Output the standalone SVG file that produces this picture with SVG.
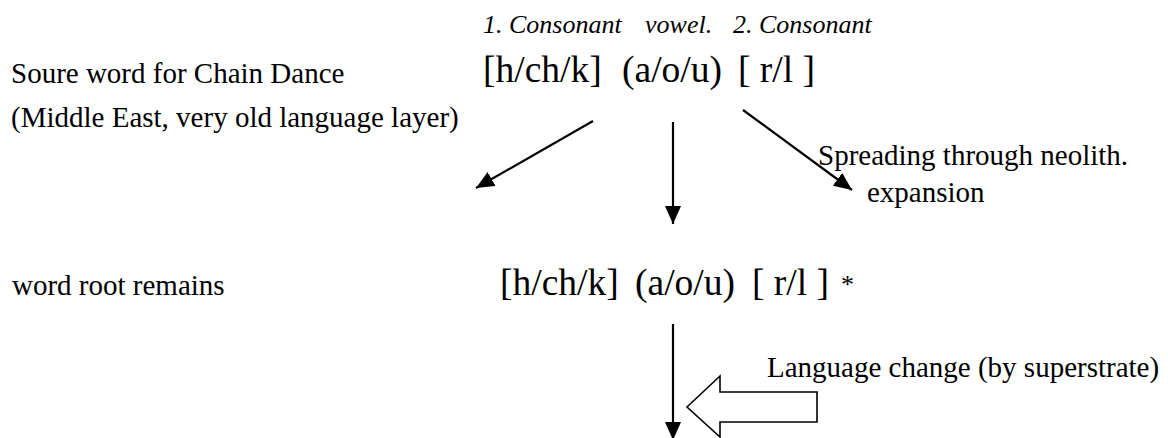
<svg xmlns="http://www.w3.org/2000/svg" width="1168" height="438" viewBox="0 0 1168 438">
  <style>
    .lbl { font-size: 29px; }
    .ital { font-size: 26px; font-style: italic; }
    .root { font-size: 37.5px; }
    .star { font-size: 26px; }
    .line { stroke: #000; stroke-width: 2.2; fill: none; }
  </style>
  <defs>
    <marker id="head" viewBox="0 0 18 16" refX="18" refY="8" markerWidth="18" markerHeight="16" markerUnits="userSpaceOnUse" orient="auto">
      <path d="M0,0 L18,8 L0,16 Z" fill="#000"/>
    </marker>
  </defs>

  <rect width="1168" height="438" fill="#fff"/>

  <g font-family="'Liberation Serif', 'Times New Roman', Times, serif" fill="#000">
    <!-- source word -->
    <g id="source">
      <text class="lbl" x="11" y="83">Soure word for Chain Dance</text>
      <text class="lbl" x="11" y="127">(Middle East, very old language layer)</text>
      <text class="ital" x="483" y="33">1. Consonant</text>
      <text class="ital" x="645" y="33">vowel.</text>
      <text class="ital" x="733" y="33">2. Consonant</text>
      <text class="root" x="483" y="82">[h/ch/k]</text>
      <text class="root" x="622" y="82">(a/o/u)</text>
      <text class="root" x="738" y="82">[ r/l ]</text>
    </g>

    <!-- spreading label -->
    <g id="spreading">
      <text class="lbl" x="818" y="165">Spreading through neolith.</text>
      <text class="lbl" x="867" y="202">expansion</text>
    </g>

    <!-- remaining word root -->
    <g id="remains">
      <text class="lbl" x="12" y="295">word root remains</text>
      <text class="root" x="500" y="295">[h/ch/k]</text>
      <text class="root" x="635" y="295">(a/o/u)</text>
      <text class="root" x="752" y="295">[ r/l ]</text>
      <text class="star" x="841" y="293">*</text>
    </g>

    <!-- superstrate change -->
    <g id="superstrate">
      <text class="lbl" x="767" y="377">Language change (by superstrate)</text>
      <path d="M687,407 L720,376 L720,392 L817,392 L817,422 L720,422 L720,437 Z" fill="#fff" stroke="#000" stroke-width="1.6"/>
    </g>
  </g>

  <!-- connectors -->
  <g id="connectors">
    <line class="line" x1="593" y1="121" x2="476" y2="188" marker-end="url(#head)"/>
    <line class="line" x1="673" y1="122" x2="673" y2="224" marker-end="url(#head)"/>
    <line class="line" x1="743" y1="110" x2="852" y2="190" marker-end="url(#head)"/>
    <line class="line" x1="673" y1="324" x2="673" y2="440" marker-end="url(#head)"/>
  </g>
</svg>
